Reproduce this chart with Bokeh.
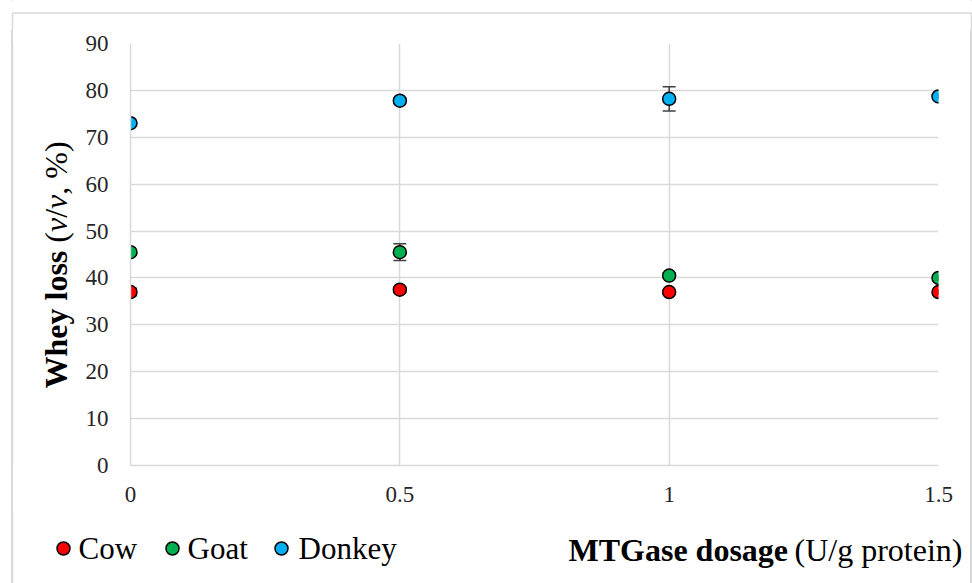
import math
from bokeh.plotting import figure
from bokeh.models import (ColumnDataSource, Whisker, TeeHead, FixedTicker, Range1d)
from bokeh.layouts import column, row
from bokeh.core.properties import value
from bokeh.embed import file_html
from bokeh.resources import INLINE

# ---------------- data ----------------
dosage = [0, 0.5, 1, 1.5]
x_tick_labels = ["0", "0.5", "1", "1.5"]
y_ticks = [0, 10, 20, 30, 40, 50, 60, 70, 80, 90]

cow = [37.0, 37.5, 37.0, 37.0]
goat = [45.5, 45.5, 40.5, 40.0]
donkey = [73.0, 77.8, 78.2, 78.7]

cow_err = [0.8, 0.5, 0.5, 0.4]
goat_err = [0.5, 1.8, 0.6, 0.5]
donkey_err = [0.5, 0.5, 2.6, 0.4]

series_names = ["Cow", "Goat", "Donkey"]
series_colors = ["#FF0000", "#00B050", "#00B0F0"]

# ---------------- layout constants (global pixels) ----------------
W, H = 972, 583
FL, FR, FT, FB = 130, 938, 43, 465       # main frame edges
TOP_H = 30                                # top strip height
MID_H = 480                               # middle row height
BOT_H = H - TOP_H - MID_H                 # bottom strip height
LEFT_W = 80
RIGHT_W = 18
MAIN_W = W - LEFT_W - RIGHT_W
B_TOP = FT - TOP_H
B_BOT = (TOP_H + MID_H) - FB

GRID = "#D9D9D9"
TICK_COLOR = "#262626"
SERIF = "Liberation Serif"
BORDER_X0, BORDER_X1, BORDER_Y0 = 12, 971, 12.5


def strip(x0, x1, y0, y1, bt=0, bb=0, opaque=False):
    """Auxiliary figure whose frame data coordinates equal global page pixels."""
    f = figure(width=x1 - x0, height=y1 - y0,
               x_range=Range1d(x0, x1), y_range=Range1d(y1 - bb, y0 + bt),
               x_axis_type=None, y_axis_type=None,
               output_backend="svg", toolbar_location=None,
               min_border=0, min_border_left=0, min_border_right=0,
               min_border_top=bt, min_border_bottom=bb,
               background_fill_color="white", border_fill_color="white")
    if not opaque:
        f.background_fill_alpha = 0
        f.border_fill_alpha = 0
    f.outline_line_color = None
    f.grid.visible = False
    return f


def vborder(f, x):
    f.line([x, x], [-50, H + 50], line_color=GRID, line_width=1.5)


# ---------------- main chart ----------------
p = figure(width=MAIN_W, height=MID_H, x_range=(0, 1.5), y_range=(0, 90),
           output_backend="svg", toolbar_location=None,
           min_border_left=FL - LEFT_W, min_border_right=(LEFT_W + MAIN_W) - FR,
           min_border_top=B_TOP, min_border_bottom=B_BOT,
           background_fill_color="white", border_fill_color="white")
p.outline_line_color = None

for ax in (p.xaxis[0], p.yaxis[0]):
    ax.axis_line_color = GRID
    ax.axis_line_width = 1.5
    ax.major_tick_line_color = None
    ax.minor_tick_line_color = None
    ax.major_tick_out = 0
    ax.major_tick_in = 0
    ax.major_label_text_font = SERIF
    ax.major_label_text_font_size = "23px"
    ax.major_label_text_color = TICK_COLOR

p.xaxis.ticker = FixedTicker(ticks=dosage)
p.xaxis.major_label_overrides = {t: lab for t, lab in zip(dosage, x_tick_labels)}
p.xaxis.major_label_standoff = 21
p.yaxis.ticker = FixedTicker(ticks=y_ticks)
p.yaxis.major_label_standoff = 22

p.xgrid.ticker = FixedTicker(ticks=dosage)
p.ygrid.ticker = FixedTicker(ticks=y_ticks)
for g in (p.xgrid[0], p.ygrid[0]):
    g.grid_line_color = GRID
    g.grid_line_width = 1.5

for name, vals, errs, col in zip(series_names, [cow, goat, donkey],
                                 [cow_err, goat_err, donkey_err], series_colors):
    src = ColumnDataSource(dict(
        x=dosage, y=vals,
        upper=[v + e for v, e in zip(vals, errs)],
        lower=[v - e for v, e in zip(vals, errs)]))
    wk = Whisker(base="x", upper="upper", lower="lower", source=src,
                 line_color="#404040", line_width=1.5,
                 upper_head=TeeHead(size=13, line_color="#404040", line_width=1.5),
                 lower_head=TeeHead(size=13, line_color="#404040", line_width=1.5))
    p.add_layout(wk)
    p.scatter("x", "y", source=src, size=13, fill_color=col,
              line_color="black", line_width=1.5)

# ---------------- top strip (outer border) ----------------
top = strip(0, W, 0, TOP_H, opaque=True)
top.line([BORDER_X0, BORDER_X1], [BORDER_Y0, BORDER_Y0], line_color=GRID, line_width=1.5)
top.line([BORDER_X0, BORDER_X0], [BORDER_Y0, H + 50], line_color=GRID, line_width=1.5)
top.line([BORDER_X1, BORDER_X1], [BORDER_Y0, H + 50], line_color=GRID, line_width=1.5)

# ---------------- left strip (y axis title); frame aligned with main frame ----------------
left = strip(0, LEFT_W, TOP_H, TOP_H + MID_H, bt=B_TOP, bb=B_BOT)
vborder(left, BORDER_X0)
fs = 32
em = fs / 1000.0
# (text, style, glyph advance, following space) in font units
pieces = [("Whey loss", "bold", 4306, 250), ("(", "normal", 333, 0), ("v", "italic", 444, 0),
          ("/", "normal", 278, 0), ("v", "italic", 444, 0), (", %)", "normal", 1666, 0)]
base_y = 388
label_x = 55
off = 0.0
for txt, style, wunits, sp in pieces:
    w = wunits * em
    left.text(x=[label_x], y=[base_y - off], text=[txt], text_font=value(SERIF),
              text_font_size=f"{fs}px", text_font_style=style, text_color="black",
              angle=math.pi / 2, text_align="left", text_baseline="middle")
    off += w + sp * em

# ---------------- right strip (outer border) ----------------
right = strip(W - RIGHT_W, W, TOP_H, TOP_H + MID_H, bt=B_TOP, bb=B_BOT)
vborder(right, BORDER_X1)

# ---------------- bottom strip (legend + x axis title) ----------------
bot = strip(0, W, TOP_H + MID_H, H)
vborder(bot, BORDER_X0)
vborder(bot, BORDER_X1)

legend_marker_x = [63, 172, 281]
legend_text_x = [78, 187, 298]
legend_y = 548
bot.scatter(legend_marker_x, [legend_y] * 3, size=13, fill_color=series_colors,
            line_color="black", line_width=1.5)
bot.text(x=legend_text_x, y=[legend_y] * 3, text=series_names, text_font=value(SERIF),
         text_font_size="31px", text_color="black", text_align="left",
         text_baseline="middle")

bot.text(x=[568], y=[549], text=["MTGase dosage"], text_font=value(SERIF),
         text_font_size="32px", text_font_style="bold", text_color="black",
         text_align="left", text_baseline="middle")
bot.text(x=[962], y=[549], text=["(U/g protein)"], text_font=value(SERIF),
         text_font_size="32px", text_color="black",
         text_align="right", text_baseline="middle")

layout = column(top, row(left, p, right), bot)
# outer frame's vertical sides, shown through the transparent side strips
layout.styles = {
    "background-color": "white",
    "background-image": (
        f"linear-gradient(to right, transparent {BORDER_X0 - 0.75}px, {GRID} {BORDER_X0 - 0.75}px, "
        f"{GRID} {BORDER_X0 + 0.75}px, transparent {BORDER_X0 + 0.75}px), "
        f"linear-gradient(to right, transparent {BORDER_X1 - 0.75}px, {GRID} {BORDER_X1 - 0.75}px, "
        f"{GRID} {BORDER_X1 + 0.75}px, transparent {BORDER_X1 + 0.75}px)"
    ),
}
open("out.html", "w").write(file_html(layout, INLINE))
